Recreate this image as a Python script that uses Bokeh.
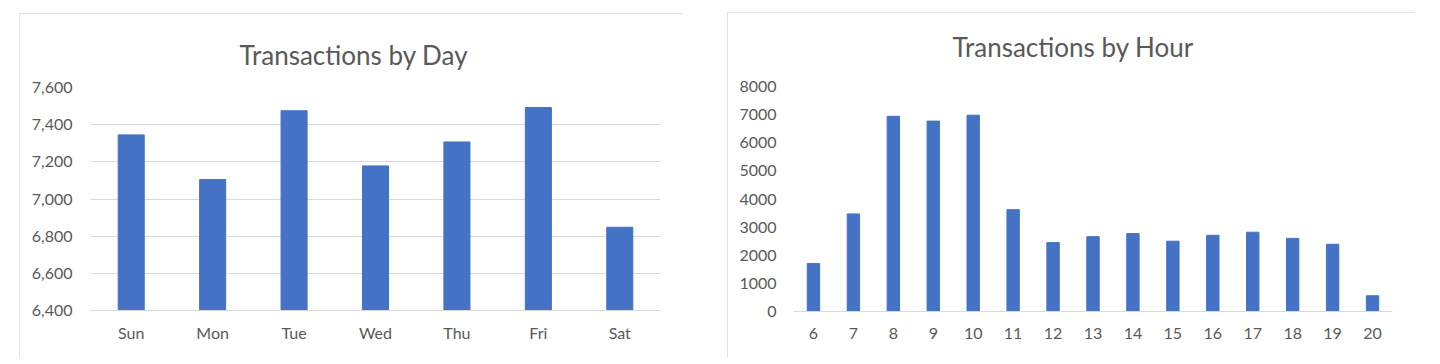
from bokeh.plotting import figure
from bokeh.models import FactorRange, Range1d, FixedTicker, NumeralTickFormatter, Spacer, Title
from bokeh.layouts import row, column
from bokeh.embed import file_html
from bokeh.resources import INLINE

# ---- data ----
days = ["Sun", "Mon", "Tue", "Wed", "Thu", "Fri", "Sat"]
day_counts = [7345, 7105, 7475, 7178, 7307, 7492, 6848]
day_ticks = [6400, 6600, 6800, 7000, 7200, 7400, 7600]

hours = ["6", "7", "8", "9", "10", "11", "12", "13", "14", "15", "16", "17", "18", "19", "20"]
hour_counts = [1710, 3470, 6940, 6770, 6980, 3620, 2450, 2660, 2770, 2500, 2710, 2820, 2600, 2390, 560]
hour_ticks = [0, 1000, 2000, 3000, 4000, 5000, 6000, 7000, 8000]

BAR = "#4472C4"
TXT = "#595959"
GRID = "#D9D9D9"
FONT = "Lato"


def style(p, title_text, title_standoff, title_offset, pad=None):
    if pad is not None:
        # invisible spacer between frame and title
        p.add_layout(Title(text=" ", text_font_size=pad, standoff=0, text_color="white"), "above")
    p.add_layout(Title(text=title_text, text_font=FONT, text_font_size="26px",
                       text_font_style="normal", text_color=TXT, align="left",
                       offset=title_offset, standoff=title_standoff), "above")
    p.outline_line_color = None
    p.background_fill_color = "white"
    p.border_fill_color = "white"
    for ax in (p.xaxis[0], p.yaxis[0]):
        ax.major_tick_line_color = None
        ax.minor_tick_line_color = None
        ax.major_tick_out = 0
        ax.major_tick_in = 0
        ax.minor_tick_out = 0
        ax.minor_tick_in = 0
        ax.major_label_text_font = FONT
        ax.major_label_text_font_size = "16px"
        ax.major_label_text_color = TXT
    p.yaxis.axis_line_color = None
    p.xaxis.axis_line_color = GRID
    p.xgrid.grid_line_color = None
    p.styles = {"outline": "1px solid #D9D9D9", "outline-offset": "-1px"}


p1 = figure(x_range=FactorRange(*days), y_range=Range1d(day_ticks[0], day_ticks[-1]),
            width=664, height=344,
            output_backend="svg", toolbar_location=None,
            min_border_left=71, min_border_right=23, min_border_top=74, min_border_bottom=47)
p1.vbar(x=days, top=day_counts, bottom=day_ticks[0], width=0.32, color=BAR)
style(p1, "Transactions by Day", 33, 149)
p1.yaxis.ticker = FixedTicker(ticks=day_ticks)
p1.ygrid.ticker = FixedTicker(ticks=day_ticks)
p1.yaxis.formatter = NumeralTickFormatter(format="0,0")
p1.yaxis.major_label_standoff = 18
p1.xaxis.major_label_standoff = 12
p1.ygrid.grid_line_color = GRID
p1.ygrid.grid_line_width = 1

p2 = figure(x_range=FactorRange(*hours), y_range=Range1d(hour_ticks[0], hour_ticks[-1]),
            width=688, height=346,
            output_backend="svg", toolbar_location=None,
            min_border_left=66, min_border_right=23, min_border_top=74, min_border_bottom=47)
p2.vbar(x=hours, top=hour_counts, width=0.31, color=BAR)
style(p2, "Transactions by Hour", 30, 159, pad="7px")
p2.yaxis.ticker = FixedTicker(ticks=hour_ticks)
p2.yaxis.formatter = NumeralTickFormatter(format="0")
p2.yaxis.major_label_standoff = 17
p2.xaxis.major_label_standoff = 16
p2.ygrid.grid_line_color = None

layout = row(
    Spacer(width=19, height=10),
    column(Spacer(width=10, height=13), p1, spacing=0),
    Spacer(width=44, height=10),
    column(Spacer(width=10, height=12), p2, spacing=0),
    spacing=0,
)
open("out.html", "w").write(file_html(layout, INLINE))
